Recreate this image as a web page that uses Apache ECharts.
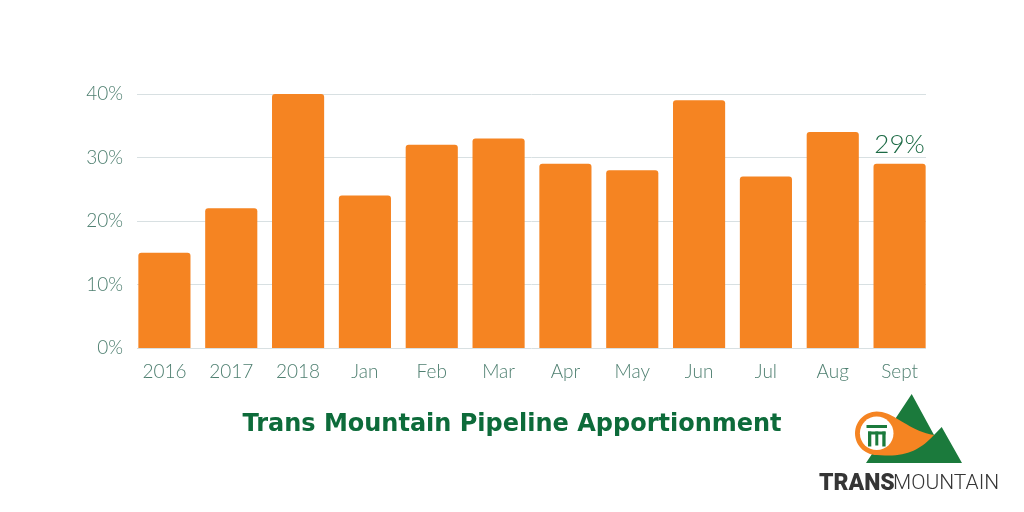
<!DOCTYPE html>
<html><head><meta charset="utf-8">
<script src="https://cdn.jsdelivr.net/npm/echarts@6/dist/echarts.min.js"></script>
<style>html,body{margin:0;padding:0;background:#fff}#c{width:1024px;height:512px}</style>
</head><body><div id="c"></div>
<script>
const categories = ['2016','2017','2018','Jan','Feb','Mar','Apr','May','Jun','Jul','Aug','Sept'];
const apportionment = [15,22,40,24,32,33,29,28,39,27,34,29];
const yTicks = [0,10,20,30,40];
const titleText = 'Trans Mountain Pipeline Apportionment';

// logo swoosh outline (decoration, not data)
function cubic(p0,p1,p2,p3,n){const pts=[];for(let i=0;i<=n;i++){const t=i/n,u=1-t;
  pts.push([u*u*u*p0[0]+3*u*u*t*p1[0]+3*u*t*t*p2[0]+t*t*t*p3[0],u*u*u*p0[1]+3*u*u*t*p1[1]+3*u*t*t*p2[1]+t*t*t*p3[1]]);}return pts;}
const cx=876.7, cy=433.3, R=21.7;
const swoosh = cubic([cx,cy-R],[895,cy-R],[906,430],[934,435],20)
  .concat(cubic([934,435],[920,450],[905,458],[cx,cy+R],20).slice(1));
for(let a=96;a<=264;a+=6){const r=a*Math.PI/180;swoosh.push([cx+R*Math.cos(r), cy+R*Math.sin(r)]);}

const chart = echarts.init(document.getElementById('c'), null, {renderer:'canvas'});
const labelColor = '#4e7f70';
const labelFont = {fontFamily:'Lato',fontWeight:300,fontSize:19,color:labelColor};
chart.setOption({
  backgroundColor:'#ffffff',
  animation:false,
  title:{text:titleText,left:'center',top:408,
    textStyle:{fontFamily:'DejaVu Sans',fontWeight:700,fontSize:24,color:'#0d6b3a'}},
  grid:[
    {left:137,right:98,top:94,bottom:164},
    {left:131,right:91,top:94,bottom:164}
  ],
  xAxis:[
    {type:'category',gridIndex:0,data:categories,show:false},
    {type:'category',gridIndex:1,data:categories,
      axisLine:{show:false},axisTick:{show:false},
      axisLabel:Object.assign({margin:14},labelFont)}
  ],
  yAxis:[
    {type:'value',gridIndex:0,min:yTicks[0],max:yTicks[yTicks.length-1],interval:10,
      axisLabel:Object.assign({formatter:'{value}%',margin:14},labelFont),
      splitLine:{lineStyle:{color:'#d8e0e2',width:1}},
      axisLine:{show:false},axisTick:{show:false}},
    {type:'value',gridIndex:1,min:yTicks[0],max:yTicks[yTicks.length-1],interval:10,show:false,
      splitLine:{show:false}}
  ],
  series:[{type:'bar',xAxisIndex:1,yAxisIndex:1,
    data:apportionment.map((v,i)=>i===apportionment.length-1?
      {value:v,label:{show:true,position:'top',distance:6,formatter:'{c}%',fontFamily:'Lato',fontWeight:300,fontSize:26,color:'#1c6a45'}}:v),
    barCategoryGap:'22%',
    itemStyle:{color:'#f58422',borderRadius:[3,3,0,0]}}],
  graphic:[
    {type:'polygon',shape:{points:[[866,463],[911.7,394],[934,435],[941.7,427],[962,463]]},style:{fill:'#1b7a3c'}},
    {type:'polygon',shape:{points:swoosh},style:{fill:'#f58422'}},
    {type:'circle',shape:{cx:cx,cy:cy,r:16.8},style:{fill:'#ffffff'}},
    {type:'rect',shape:{x:866.5,y:425,width:20.5,height:3},style:{fill:'#1b7a3c'}},
    {type:'rect',shape:{x:868,y:431.5,width:17.5,height:3},style:{fill:'#1b7a3c'}},
    {type:'rect',shape:{x:868,y:431.5,width:3.3,height:15},style:{fill:'#1b7a3c'}},
    {type:'rect',shape:{x:875.3,y:431.5,width:3,height:14},style:{fill:'#1b7a3c'}},
    {type:'rect',shape:{x:882.3,y:431.5,width:3.3,height:15},style:{fill:'#1b7a3c'}},
    {type:'text',style:{text:'TRANS',x:819,y:484,verticalAlign:'middle',fontFamily:'Roboto',fontWeight:900,fontSize:23,fill:'#353535'}},
    {type:'text',style:{text:'MOUNTAIN',x:893,y:484,verticalAlign:'middle',fontFamily:'Roboto',fontWeight:300,fontSize:21,fill:'#353535'}}
  ]
});
</script></body></html>
